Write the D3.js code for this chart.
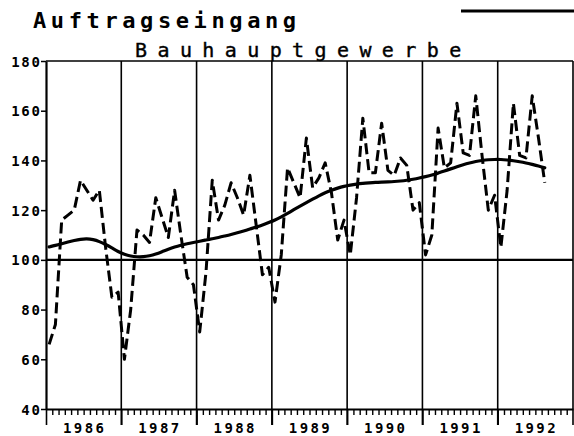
<!DOCTYPE html>
<html>
<head>
<meta charset="utf-8">
<script src="https://cdn.jsdelivr.net/npm/d3@7"></script>
<style>
  html, body { margin: 0; padding: 0; background: #fff; }
  svg { display: block; }
  text { fill: #000; }
</style>
</head>
<body>
<svg id="chart" width="574" height="436"></svg>
<script>
// Auftragseingang Bauhauptgewerbe, monthly from Jan 1986
const years = ["1986", "1987", "1988", "1989", "1990", "1991", "1992"];
const yTicks = [40, 60, 80, 100, 120, 140, 160, 180];

// monthly index values (dashed)
const orders = [
    66, 74, 116, 118, 120, 132, 128, 124, 128, 105, 85, 87,
    60, 80, 112, 110, 107, 125, 117, 109, 128, 110, 93, 90,
    71, 95, 132, 116, 122, 131, 125, 118, 134, 114, 94, 97,
    83, 102, 137, 131, 125, 149, 129, 133, 139, 127, 108, 116,
    102, 125, 157, 135, 135, 155, 136, 134, 141, 138, 120, 123,
    102, 110, 153, 137, 139, 163, 143, 142, 166, 142, 120, 126,
    105, 128, 163, 142, 141, 166, 149, 131
];

// smoothed trend (solid)
const trend = [
    105.2, 105.8, 106.5, 107.2, 107.8, 108.3, 108.5, 108.2, 107.4, 106.2, 104.8, 103.3,
    102.2, 101.5, 101.2, 101.2, 101.6, 102.3, 103.3, 104.3, 105.2, 105.9, 106.5, 107.0,
    107.5, 108.0, 108.5, 109.0, 109.6, 110.2, 110.9, 111.6, 112.4, 113.2, 114.0, 115.0,
    116.0, 117.3, 118.7, 120.2, 121.6, 123.0, 124.4, 125.8, 127.0, 128.0, 128.9, 129.6,
    130.1, 130.5, 130.8, 131.0, 131.2, 131.3, 131.4, 131.5, 131.7, 132.0, 132.4, 132.9,
    133.5, 134.1, 134.9, 135.7, 136.6, 137.5, 138.3, 139.0, 139.6, 140.0, 140.3, 140.4,
    140.4, 140.2, 139.9, 139.5, 139.0, 138.4, 137.8, 137.0
];

const plotLeft = 46, plotRight = 573, plotTop = 61, plotBottom = 409;
const svg = d3.select("#chart");

const x = d3.scaleLinear().domain([0, years.length * 12]).range([plotLeft, plotRight]);
const y = d3.scaleLinear().domain([40, 180]).range([plotBottom, plotTop]);

const tickFont = "'DejaVu Sans Mono', monospace";

// titles
svg.append("text")
    .attr("x", 33).attr("y", 28)
    .attr("font-family", tickFont)
    .attr("font-weight", "bold")
    .attr("font-size", 22)
    .attr("letter-spacing", 4.6)
    .text("Auftragseingang");

svg.append("text")
    .attr("x", 135).attr("y", 57)
    .attr("font-family", tickFont)
    .attr("font-size", 20)
    .attr("letter-spacing", 10.4)
    .attr("stroke", "#000")
    .attr("stroke-width", 0.4)
    .text("Bauhauptgewerbe");

// legend stroke top right
svg.append("line")
    .attr("x1", 461).attr("x2", 574)
    .attr("y1", 11).attr("y2", 11)
    .attr("stroke", "#000").attr("stroke-width", 3);

// year separators
svg.append("g")
    .selectAll("line")
    .data(d3.range(1, years.length))
    .join("line")
    .attr("x1", d => x(d * 12)).attr("x2", d => x(d * 12))
    .attr("y1", plotTop).attr("y2", plotBottom + 16)
    .attr("stroke", "#000").attr("stroke-width", 1.6);

// frame: top and right
svg.append("line")
    .attr("x1", plotLeft).attr("x2", plotRight).attr("y1", plotTop).attr("y2", plotTop)
    .attr("stroke", "#000").attr("stroke-width", 1.6);
svg.append("line")
    .attr("x1", plotRight).attr("x2", plotRight).attr("y1", plotTop).attr("y2", plotBottom + 16)
    .attr("stroke", "#000").attr("stroke-width", 1.6);

// 100 reference line
svg.append("line")
    .attr("x1", plotLeft).attr("x2", plotRight).attr("y1", y(100)).attr("y2", y(100))
    .attr("stroke", "#000").attr("stroke-width", 2.2);

// y axis
const yAxis = svg.append("g")
    .attr("transform", `translate(${plotLeft},0)`)
    .call(d3.axisLeft(y).tickValues(yTicks).tickSize(5).tickPadding(1).tickSizeOuter(0));
yAxis.select(".domain").attr("stroke-width", 2.2);
yAxis.selectAll(".tick line").attr("stroke-width", 1.5);
yAxis.selectAll(".tick text")
    .attr("font-family", tickFont)
    .attr("font-weight", "bold")
    .attr("font-size", 14)
    .attr("letter-spacing", 1.8)
    .attr("dx", 1.8)
    .attr("dy", "0.36em");

// x axis: monthly ticks
const xAxis = svg.append("g")
    .attr("transform", `translate(0,${plotBottom})`)
    .call(d3.axisBottom(x).tickValues(d3.range(0, years.length * 12)).tickSize(6).tickFormat("").tickSizeOuter(0));
xAxis.select(".domain").attr("stroke-width", 2.2);
xAxis.selectAll(".tick line").attr("stroke-width", 1.4);
xAxis.selectAll(".tick").filter(d => d % 12 === 0).select("line")
    .attr("y2", 16).attr("stroke-width", 1.6);

// year labels
svg.append("g")
    .selectAll("text")
    .data(years)
    .join("text")
    .attr("x", (d, i) => x(i * 12 + 6) + 1)
    .attr("y", 433)
    .attr("text-anchor", "middle")
    .attr("font-family", tickFont)
    .attr("font-weight", "bold")
    .attr("font-size", 14)
    .attr("letter-spacing", 2.4)
    .text(d => d);

// series
const line = d3.line()
    .x((d, i) => x(i + 0.5))
    .y(d => y(d));

svg.append("path")
    .attr("d", line(orders))
    .attr("fill", "none")
    .attr("stroke", "#000")
    .attr("stroke-width", 3)
    .attr("stroke-dasharray", "11,5")
    .attr("stroke-linejoin", "round");

svg.append("path")
    .attr("d", line.curve(d3.curveBasis)(trend))
    .attr("fill", "none")
    .attr("stroke", "#000")
    .attr("stroke-width", 3.2)
    .attr("stroke-linecap", "round");
</script>
</body>
</html>
